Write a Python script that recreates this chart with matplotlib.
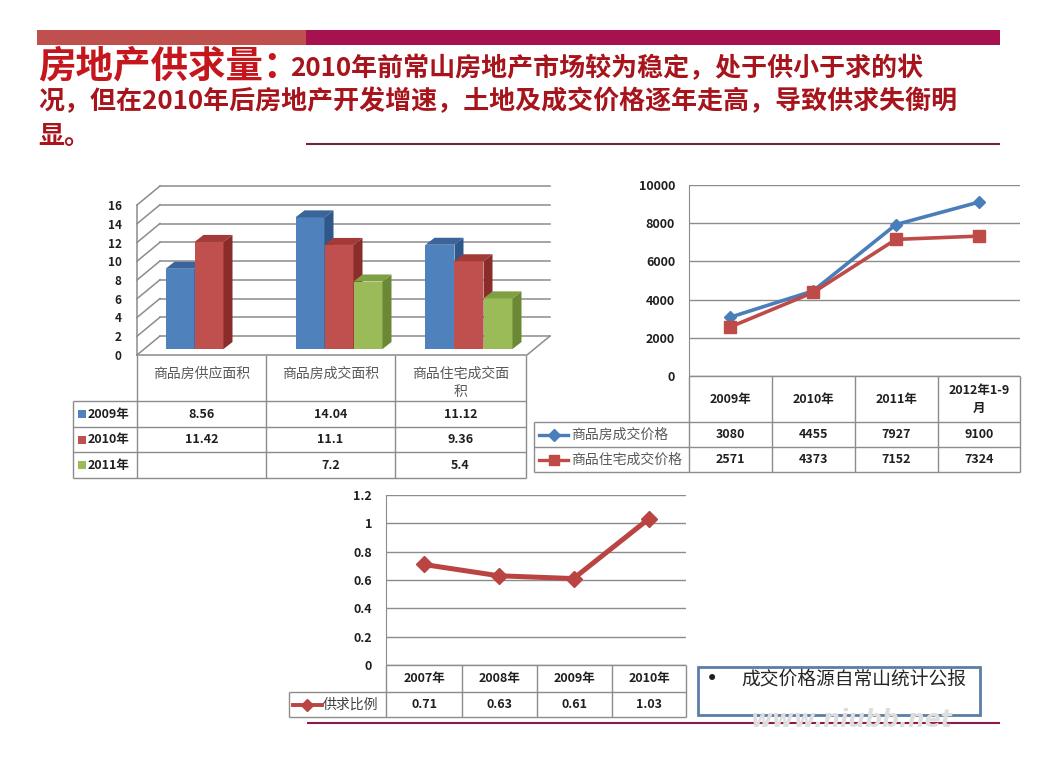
import matplotlib.pyplot as plt
from matplotlib.patches import Rectangle

W, H = 1037, 778

plt.rcParams['font.family'] = ['Noto Sans CJK SC', 'DejaVu Sans']

# ---- data ----
title_head = '房地产供求量：'
title_lines = [
    '2010年前常山房地产市场较为稳定，处于供小于求的状',
    '况，但在2010年后房地产开发增速，土地及成交价格逐年走高，导致供求失衡明',
    '显。',
]

area_categories = ['商品房供应面积', '商品房成交面积', '商品住宅成交面\n积']
area_years = ['2009年', '2010年', '2011年']
area_2009 = [8.56, 14.04, 11.12]
area_2010 = [11.42, 11.1, 9.36]
area_2011 = [None, 7.2, 5.4]

price_periods = ['2009年', '2010年', '2011年', '2012年1-9\n月']
price_names = ['商品房成交价格', '商品住宅成交价格']
price_house = [3080, 4455, 7927, 9100]
price_residential = [2571, 4373, 7152, 7324]

ratio_years = ['2007年', '2008年', '2009年', '2010年']
ratio_name = '供求比例'
ratio_values = [0.71, 0.63, 0.61, 1.03]

note_text = '成交价格源自常山统计公报'

# ---- styles ----
GRID = '#8c8c8c'
TXT = '#1f1f1f'
bar_colors = [('#4f81bd', '#2f5789', '#3a649a'),
              ('#c0504d', '#8a2c2a', '#a23a37'),
              ('#9bbb59', '#6b8935', '#7f9f43')]


def px_axes(fig, left, top, right, bottom):
    return fig.add_axes([left / W, 1 - bottom / H,
                         (right - left) / W, (bottom - top) / H])


def hline(ax, y, x0, x1, **kw):
    ax.plot([x0, x1], [y, y], color=kw.pop('color', GRID),
            lw=kw.pop('lw', 1.0), solid_capstyle='butt', **kw)


def vline(ax, x, y0, y1, **kw):
    ax.plot([x, x], [y0, y1], color=kw.pop('color', GRID),
            lw=kw.pop('lw', 1.0), solid_capstyle='butt', **kw)


def style_value_axis(ax, ticks, fmt, size=9, pad=10):
    ax.set_yticks(ticks)
    ax.set_yticklabels([fmt(t) for t in ticks], fontsize=size,
                       fontweight='bold', color=TXT)
    ax.set_xticks([])
    ax.tick_params(axis='y', length=0, pad=pad)
    for side in ['top', 'right', 'bottom']:
        ax.spines[side].set_visible(False)
    ax.patch.set_visible(False)


fig = plt.figure(figsize=(W / 100, H / 100), dpi=100)
fig.patch.set_facecolor('white')

bg = fig.add_axes([0, 0, 1, 1])
bg.set_xlim(0, W)
bg.set_ylim(H, 0)
bg.axis('off')

# ---- header ----
bg.add_patch(Rectangle((37, 30), 269, 15, fc='#c0504d', ec='none'))
bg.add_patch(Rectangle((306, 30), 694, 15, fc='#a6124f', ec='none'))
hline(bg, 144, 306, 1000, color='#7a2048', lw=1.5)
bg.text(38, 66, title_head, fontsize=27, fontweight='bold',
        color='#c4161c', va='center', ha='left')
bg.text(290, 69, title_lines[0], fontsize=18.7, fontweight='bold',
        color='#a8141b', va='center', ha='left')
bg.text(38, 102, title_lines[1], fontsize=18.7, fontweight='bold',
        color='#a8141b', va='center', ha='left')
bg.text(38, 136, title_lines[2], fontsize=18.7, fontweight='bold',
        color='#a8141b', va='center', ha='left')

# ---- chart 1: 3d column chart of areas ----
ax1 = px_axes(fig, 137, 205, 527, 355)
ax1.set_xlim(0, 3)
ax1.set_ylim(0, 16)
style_value_axis(ax1, list(range(0, 17, 2)), str, size=8.5, pad=11)
ax1.spines['left'].set_visible(False)

ux, uy = 130.0, 150 / 16.0
wx, wy = 23 / ux, 19 / uy          # wall depth
px_, py_ = 7 / ux, 6 / uy          # bar plane
dx, dy = 9 / ux, 7 / uy            # bar depth
bw = 29 / ux

for v in range(0, 17, 2):
    ax1.plot([wx, 3 + wx], [v + wy, v + wy], color=GRID, lw=1.1,
             clip_on=False, zorder=1)
    ax1.plot([0, wx], [v, v + wy], color=GRID, lw=1.1, clip_on=False, zorder=1)
ax1.plot([0, 0], [0, 16], color=GRID, lw=1.1, clip_on=False, zorder=1)
ax1.plot([0, 3, 3 + wx], [0, 0, wy], color=GRID, lw=1.1, clip_on=False, zorder=1)

z = 3
for c in range(len(area_categories)):
    for i, series in enumerate([area_2009, area_2010, area_2011]):
        v = series[c]
        if v is None:
            continue
        front, side, top = bar_colors[i]
        x0 = c + 0.5 + (i - 1.5) * bw + px_
        ax1.bar(x0, v, width=bw, bottom=py_, align='edge', color=front,
                clip_on=False, zorder=z)
        ax1.fill([x0 + bw, x0 + bw, x0 + bw + dx, x0 + bw + dx],
                 [py_, py_ + v, py_ + v + dy, py_ + dy],
                 color=side, clip_on=False, zorder=z, lw=0)
        ax1.fill([x0, x0 + bw, x0 + bw + dx, x0 + dx],
                 [py_ + v, py_ + v, py_ + v + dy, py_ + v + dy],
                 color=top, clip_on=False, zorder=z, lw=0)
        z += 1

# table under chart 1
cols1 = [137, 266, 395, 526]
rows1 = [401, 427, 452, 478]
for x in cols1:
    vline(bg, x, 355, 478)
vline(bg, 73, 401, 478)
for y in rows1:
    hline(bg, y, 73, 526)
for c, name in enumerate(area_categories):
    xc = (cols1[c] + cols1[c + 1]) / 2
    for k, part in enumerate(name.split('\n')):
        bg.text(xc, 374 + 18 * k, part, fontsize=10, color='#595959',
                ha='center', va='center')
for i, (year, series) in enumerate(zip(area_years,
                                       [area_2009, area_2010, area_2011])):
    yc = (rows1[i] + rows1[i + 1]) / 2
    bg.add_patch(Rectangle((78, yc - 4), 8, 8, fc=bar_colors[i][0], ec='none'))
    bg.text(88, yc, year, fontsize=9, fontweight='bold', color=TXT,
            ha='left', va='center')
    for c, v in enumerate(series):
        if v is None:
            continue
        xc = (cols1[c] + cols1[c + 1]) / 2
        bg.text(xc, yc, str(v), fontsize=9, fontweight='bold', color=TXT,
                ha='center', va='center')

# ---- chart 2: prices ----
ax2 = px_axes(fig, 689, 185, 1020, 376)
ax2.set_xlim(-0.5, 3.5)
ax2.set_ylim(0, 10000)
style_value_axis(ax2, list(range(0, 10001, 2000)), str, pad=10)
ax2.spines['left'].set_color(GRID)
ax2.yaxis.grid(True, color=GRID, lw=1)
ax2.set_axisbelow(True)
xs = range(len(price_periods))
ax2.plot(xs, price_house, color='#4a7ebb', lw=2.6, marker='D', ms=6.5,
         clip_on=False, zorder=3)
ax2.plot(xs, price_residential, color='#be4b48', lw=2.6, marker='s', ms=8,
         clip_on=False, zorder=3)

cols2 = [689, 772, 855, 938, 1020]
for x in cols2:
    vline(bg, x, 376, 472)
vline(bg, 534, 422, 472)
hline(bg, 376, 689, 1020)
for y in [422, 447, 472]:
    hline(bg, y, 534, 1020)
for c, name in enumerate(price_periods):
    xc = (cols2[c] + cols2[c + 1]) / 2
    parts = name.split('\n')
    for k, part in enumerate(parts):
        bg.text(xc, 399 + (k - (len(parts) - 1) / 2) * 18, part, fontsize=9,
                fontweight='bold', color=TXT, ha='center', va='center')
for i, (name, series, color, mk, ms) in enumerate(zip(
        price_names, [price_house, price_residential],
        ['#4a7ebb', '#be4b48'], ['D', 's'], [6, 7.5])):
    yc = 434.5 + 25 * i
    bg.plot([539, 568], [yc, yc], color=color, lw=2.4)
    bg.plot([553.5], [yc], color=color, marker=mk, ms=ms)
    bg.text(571, yc, name, fontsize=10, color='#595959', ha='left', va='center')
    for c, v in enumerate(series):
        xc = (cols2[c] + cols2[c + 1]) / 2
        bg.text(xc, yc, str(v), fontsize=9, fontweight='bold', color=TXT,
                ha='center', va='center')

# ---- chart 3: supply/demand ratio ----
ax3 = px_axes(fig, 386, 495, 686, 665)
ax3.set_xlim(-0.5, 3.5)
ax3.set_ylim(0, 1.2)
style_value_axis(ax3, [0, 0.2, 0.4, 0.6, 0.8, 1.0, 1.2],
                 lambda t: '0' if t == 0 else ('1' if t == 1 else f'{t:g}'),
                 pad=10)
ax3.spines['left'].set_color(GRID)
ax3.yaxis.grid(True, color=GRID, lw=1)
ax3.set_axisbelow(True)
ax3.plot(range(len(ratio_years)), ratio_values, color='#b94441', lw=3.6,
         marker='D', ms=8, clip_on=False, zorder=3)

cols3 = [386, 462, 537, 612, 686]
for x in cols3:
    vline(bg, x, 665, 717)
vline(bg, 289, 692, 717)
hline(bg, 665, 386, 686)
for y in [692, 717]:
    hline(bg, y, 289, 686)
for c, name in enumerate(ratio_years):
    xc = (cols3[c] + cols3[c + 1]) / 2
    bg.text(xc, 678.5, name, fontsize=9, fontweight='bold', color=TXT,
            ha='center', va='center')
    bg.text(xc, 704.5, str(ratio_values[c]), fontsize=9, fontweight='bold',
            color=TXT, ha='center', va='center')
bg.plot([293, 322], [704.5, 704.5], color='#b94441', lw=2.8)
bg.plot([307], [704.5], color='#b94441', marker='D', ms=6.5)
bg.text(323, 704.5, ratio_name, fontsize=10, color='#404040',
        ha='left', va='center')

# ---- note box and footer ----
bg.add_patch(Rectangle((698, 667), 282, 48, fc='white', ec='#5a7fa6', lw=2))
bg.text(712, 679, '•', fontsize=15, color=TXT, ha='center', va='center',
        family='DejaVu Sans')
bg.text(741, 679, note_text, fontsize=13.5, color='#262626',
        ha='left', va='center')
hline(bg, 723, 307, 1000, color='#8b1a4a', lw=1.5)
bg.text(852, 720, 'www.niubb.net', fontsize=17, style='italic',
        fontweight='bold', color='#dedede', ha='center', va='center',
        family='DejaVu Sans')

fig.savefig('out.png', dpi=100)
